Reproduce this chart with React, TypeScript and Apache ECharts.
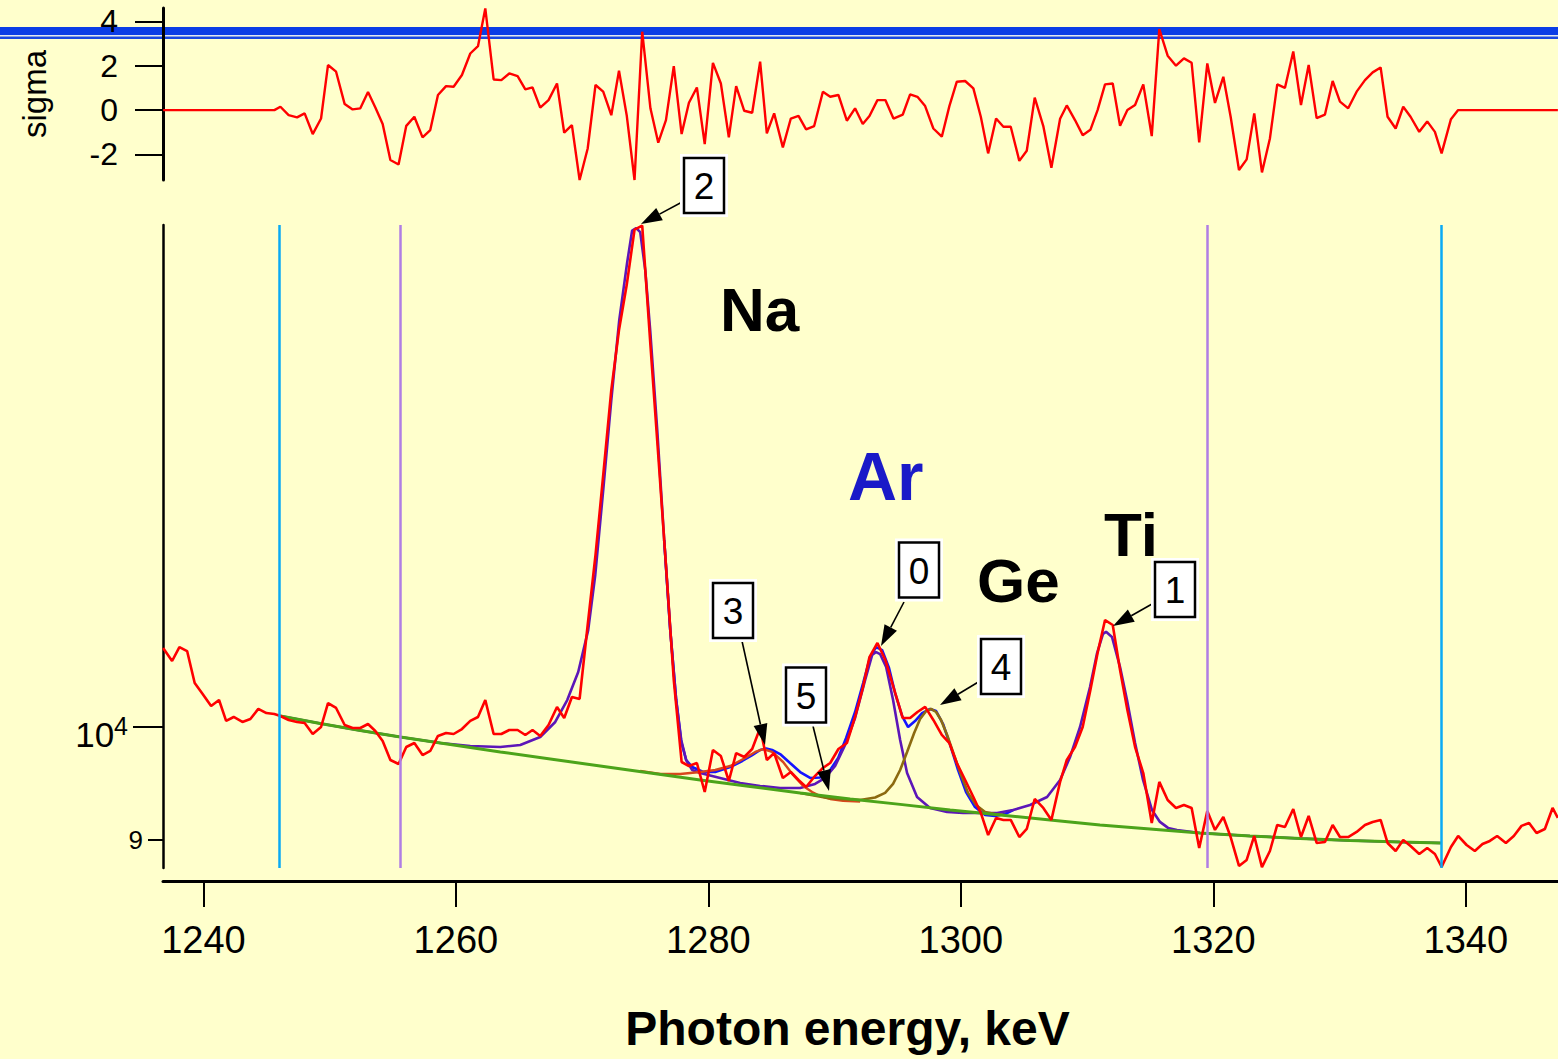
import React, { useEffect, useRef } from 'react';
import * as echarts from 'echarts';

const FONT = '"Liberation Sans", Arial, Helvetica, sans-serif';

// channel energies (keV)
const energy = [
  1236.81, 1237.52, 1238.10, 1238.71, 1239.31, 1239.94, 1240.61, 1241.24, 1241.80, 1242.40,
  1243.09, 1243.72, 1244.35, 1244.99, 1245.62, 1246.10, 1246.75, 1247.42, 1248.02, 1248.66,
  1249.32, 1249.87, 1250.51, 1251.19, 1251.82, 1252.43, 1253.04, 1253.62, 1254.20, 1254.81,
  1255.46, 1256.07, 1256.71, 1257.36, 1257.97, 1258.58, 1259.22, 1259.82, 1260.48, 1261.14,
  1261.75, 1262.33, 1262.99, 1263.60, 1264.23, 1264.89, 1265.50, 1266.07, 1266.68, 1267.34,
  1268.01, 1268.58, 1269.19, 1269.80, 1270.44, 1271.06, 1271.67, 1272.31, 1272.92, 1273.53,
  1274.15, 1274.76, 1275.41, 1276.03, 1276.64, 1277.26, 1277.88, 1278.46, 1279.09, 1279.71,
  1280.36, 1280.99, 1281.62, 1282.20, 1282.84, 1283.47, 1284.10, 1284.63, 1285.21, 1285.90,
  1286.53, 1287.14, 1287.74, 1288.38, 1289.07, 1289.65, 1290.30, 1290.97, 1291.62, 1292.23,
  1292.76, 1293.39, 1294.02, 1294.66, 1295.40, 1295.98, 1296.56, 1297.17, 1297.82, 1298.49,
  1299.09, 1299.68, 1300.34, 1300.99, 1301.58, 1302.16, 1302.79, 1303.37, 1303.95, 1304.63,
  1305.22, 1305.85, 1306.53, 1307.17, 1307.86, 1308.39, 1309.04, 1309.65, 1310.26, 1310.83,
  1311.42, 1312.03, 1312.61, 1313.19, 1313.80, 1314.45, 1315.12, 1315.72, 1316.38, 1317.04,
  1317.67, 1318.28, 1318.88, 1319.52, 1320.13, 1320.79, 1321.37, 1322.03, 1322.64, 1323.24,
  1323.85, 1324.48, 1325.06, 1325.67, 1326.33, 1326.94, 1327.55, 1328.18, 1328.84, 1329.45,
  1330.03, 1330.68, 1331.35, 1332.01, 1332.62, 1333.25, 1333.80, 1334.44, 1335.04, 1335.62,
  1336.31, 1336.94, 1337.55, 1338.08, 1338.82, 1339.39, 1340.06, 1340.71, 1341.32, 1341.90,
  1342.48, 1343.17, 1343.80, 1344.41, 1345.01, 1345.60, 1346.26, 1346.87, 1347.29,
];

// measured counts per channel
const counts = [
  10764, 10635, 10774, 10734, 10419, 10313, 10198, 10255, 10057, 10094,
  10047, 10075, 10170, 10131, 10122, 10103, 10066, 10047, 10037, 9935,
  10000, 10226, 10179, 10019, 9991, 9991, 10028, 9963, 9871, 9697,
  9661, 9815, 9852, 9742, 9779, 9917, 9944, 9935, 9981, 10057,
  10094, 10255, 9935, 9935, 9972, 9972, 9926, 9972, 9917, 10019,
  10188, 10084, 10284, 10265, 10998, 11740, 12648, 13690, 14479, 15100,
  15900, 15960, 14278, 12886, 11630, 10448, 9679, 9643, 9670, 9412,
  9788, 9733, 9509, 9760, 9724, 9797, 9991, 9697, 9760, 9536,
  9589, 9518, 9456, 9545, 9625, 9670, 9797, 9852, 10094, 10370,
  10674, 10815, 10645, 10380, 10084, 10084, 10141, 10189, 10066, 9926,
  9852, 9670, 9518, 9368, 9230, 9042, 9187, 9170, 9170, 9025,
  9093, 9351, 9273, 9170, 9501, 9697, 9815, 10000, 10351, 10714,
  11049, 10998, 10546, 10160, 9815, 9580, 9144, 9501, 9342, 9273,
  9299, 9273, 8933, 9247, 9085, 9195, 9025, 8785, 8834, 9034,
  8775, 8908, 9127, 9110, 9264, 9025, 9204, 8975, 8983, 9127,
  9025, 9025, 9068, 9127, 9153, 9170, 8975, 8908, 9000, 8950,
  8883, 8933, 8883, 8776, 8941, 9034, 8958, 8908, 8966, 8992,
  9034, 8975, 9034, 9119, 9144, 9059, 9093, 9273, 9187,
];

// normalized residuals (sigma) per channel, 0 outside the fit window
const residual = [
  0, 0, 0, 0, 0, 0, 0, 0, 0, 0,
  0, 0, 0, 0, 0, 0.15, -0.23, -0.33, -0.15, -1.08,
  -0.38, 2.03, 1.73, 0.27, 0.03, 0.08, 0.82, 0.12, -0.63, -2.25,
  -2.45, -0.71, -0.3, -1.23, -0.9, 0.68, 1.08, 1.05, 1.58, 2.55,
  2.88, 4.58, 1.38, 1.35, 1.65, 1.53, 0.93, 1.02, 0.11, 0.45,
  1.2, -1.02, -0.68, -3.15, -1.73, 1.13, 0.83, -0.23, 1.77, -0.23,
  -3.15, 3.53, 0.08, -1.47, -0.45, 1.98, -1.08, 0.33, 1.02, -1.53,
  2.13, 1.2, -1.23, 1.08, -0.03, -0.12, 2.18, -1.05, -0.15, -1.68,
  -0.38, -0.26, -0.87, -0.72, 0.83, 0.6, 0.68, -0.48, 0.08, -0.63,
  -0.27, 0.45, 0.45, -0.38, -0.2, 0.71, 0.6, 0.18, -0.83, -1.2,
  0.18, 1.28, 1.31, 0.98, -0.3, -1.95, -0.38, -0.75, -0.75, -2.29,
  -1.83, 0.56, -0.72, -2.6, -0.39, 0.21, -0.45, -1.13, -0.89, 0,
  1.16, 1.2, -0.71, 0, 0.23, 1.16, -1.17, 3.65, 2.45, 2.0,
  2.33, 2.13, -1.46, 2.1, 0.32, 1.5, -0.3, -2.7, -2.22, -0.15,
  -2.81, -1.28, 1.16, 1.0, 2.64, 0.23, 2.03, -0.36, -0.2, 1.31,
  0.38, 0.08, 0.83, 1.35, 1.7, 1.92, -0.3, -0.83, 0.15, -0.3,
  -0.98, -0.51, -0.98, -1.95, -0.41, 0, 0, 0, 0, 0,
  0, 0, 0, 0, 0, 0, 0, 0, 0,
];

// background (green)
const bgE = [1246.10, 1249.26, 1252.43, 1255.60, 1259.56, 1263.52, 1267.48, 1271.43, 1275.39, 1279.35,
  1283.31, 1287.27, 1291.23, 1295.19, 1299.15, 1303.11, 1307.07, 1311.02, 1314.98, 1318.94,
  1322.90, 1326.86, 1330.82, 1334.78, 1338.02];
const bgC = [10103, 10033, 9967, 9907, 9838, 9770, 9706, 9643, 9580, 9518,
  9461, 9404, 9351, 9304, 9255, 9212, 9170, 9127, 9093, 9059,
  9034, 9013, 8996, 8983, 8975];

// fit: background + Na + Ar + Ti (purple)
const mainFitE = [1246.10, 1249.26, 1252.43, 1255.60, 1258.77, 1261.14, 1263.52, 1265.10, 1266.68, 1267.87,
  1268.82, 1269.69, 1270.48, 1271.04, 1271.67, 1272.31, 1272.94, 1273.57, 1273.96, 1274.28,
  1274.60, 1275.00, 1275.39, 1275.95, 1276.50, 1276.98, 1277.45, 1277.85, 1278.24, 1278.72,
  1279.35, 1280.93, 1282.52, 1284.10, 1285.68, 1287.27, 1288.45, 1289.25, 1290.04, 1290.83,
  1291.62, 1292.42, 1292.97, 1293.29, 1293.60, 1294.08, 1294.63, 1295.19, 1295.74, 1296.53,
  1297.56, 1298.91, 1300.18, 1301.52, 1302.87, 1304.14, 1305.48, 1306.83, 1307.86, 1308.65,
  1309.44, 1310.23, 1310.79, 1311.26, 1311.50, 1311.97, 1312.61, 1313.16, 1313.80, 1314.43,
  1315.14, 1315.77, 1316.41, 1317.12, 1318.94, 1322.90, 1326.86, 1330.82, 1334.78, 1338.02];
const mainFitC = [10103, 10033, 9967, 9907, 9852, 9825, 9815, 9834, 9907, 10047,
  10255, 10526, 10946, 11523, 12472, 13564, 14615, 15425, 15888, 15923,
  15864, 15312, 14479, 13190, 11905, 10946, 10255, 9880, 9697, 9607,
  9580, 9536, 9491, 9465, 9447, 9447, 9483, 9536, 9643, 9834,
  10084, 10448, 10694, 10724, 10704, 10575, 10255, 9880, 9580, 9368,
  9273, 9238, 9230, 9230, 9230, 9255, 9299, 9368, 9518, 9724,
  10000, 10380, 10714, 10907, 10928, 10876, 10575, 10255, 9852, 9518,
  9255, 9153, 9102, 9085, 9059, 9034, 9013, 8996, 8983, 8975];

// total fit (blue), where it differs from the purple curve
const totalFitE = [1276.50, 1276.98, 1277.45, 1277.85, 1278.24, 1278.72, 1279.59, 1280.54, 1281.73, 1282.68,
  1283.47, 1284.10, 1284.58, 1285.05, 1285.68, 1286.47, 1287.27, 1288.06, 1288.85, 1289.65,
  1290.28, 1290.91, 1291.62, 1292.26, 1292.81, 1293.29, 1293.76, 1294.31, 1294.79, 1295.35,
  1295.82, 1296.37, 1296.93, 1297.56, 1298.04, 1298.59, 1299.15, 1299.78, 1300.41, 1301.12,
  1301.92, 1302.71, 1303.50, 1304.14];
const totalFitC = [11905, 10946, 10255, 9862, 9697, 9634, 9589, 9589, 9634, 9688,
  9742, 9788, 9802, 9788, 9751, 9670, 9589, 9536, 9540, 9607,
  9715, 9898, 10141, 10419, 10674, 10774, 10744, 10565, 10322, 10103,
  10000, 10056, 10131, 10170, 10150, 10028, 9834, 9607, 9412, 9281,
  9212, 9204, 9221, 9255];

// component: background + peaks 3 and 5 (orange-red)
const peak35E = [1274.60, 1276.18, 1277.77, 1279.35, 1280.54, 1281.73, 1282.91, 1283.71, 1284.34, 1285.05,
  1285.92, 1286.71, 1287.51, 1288.22, 1288.85, 1289.65, 1290.67, 1292.02];
const peak35C = [9598, 9571, 9571, 9589, 9607, 9643, 9715, 9770, 9797, 9770,
  9679, 9562, 9465, 9412, 9377, 9351, 9334, 9329];

// component: background + Ge peak 4 (brown)
const geE = [1287.27, 1289.65, 1292.02, 1293.21, 1294.00, 1294.63, 1295.19, 1295.74, 1296.30, 1296.77,
  1297.25, 1297.64, 1298.04, 1298.43, 1298.91, 1299.46, 1300.02, 1300.57, 1301.20, 1301.92,
  1302.71, 1303.50];
const geC = [9404, 9356, 9342, 9364, 9404, 9483, 9607, 9770, 9944, 10075,
  10150, 10170, 10141, 10066, 9926, 9742, 9562, 9404, 9299, 9238,
  9221, 9212];

const windowLines = [1246.02, 1338.07];
const regionLines = [1255.6, 1319.52];
const xTicks = [1240, 1260, 1280, 1300, 1320, 1340];
const sigmaTicks = [-2, 0, 2, 4];
const decadeTicks = [10000];
const minorTicks = [9000];

const X_MIN = 1236.8;
const X_MAX = 1347.3;
const Y_MIN = 8768;
const Y_MAX = 15970;

const pairs = (xs: number[], ys: number[]) => xs.map((x, i) => [x, ys[i]]);

function box(label: string, cx: number, cy: number) {
  const w = 40, h = 55;
  return [
    { type: 'rect', z: 100, shape: { x: cx - w / 2 - 4, y: cy - h / 2 - 4, width: w + 8, height: h + 8 }, style: { fill: '#ffffff' } },
    { type: 'rect', z: 101, shape: { x: cx - w / 2, y: cy - h / 2, width: w, height: h }, style: { fill: '#ffffff', stroke: '#000000', lineWidth: 2.5 } },
    { type: 'text', z: 102, x: cx, y: cy + 1, style: { text: label, fill: '#000', font: `37px ${FONT}`, align: 'center', verticalAlign: 'middle' } },
  ];
}

function arrow(x1: number, y1: number, tx: number, ty: number) {
  const dx = tx - x1, dy = ty - y1;
  const len = Math.sqrt(dx * dx + dy * dy);
  const ux = dx / len, uy = dy / len;
  const bx = tx - 21 * ux, by = ty - 21 * uy;
  const nx = -uy, ny = ux;
  return [
    { type: 'line', z: 100, shape: { x1, y1, x2: bx, y2: by }, style: { stroke: '#000', lineWidth: 1.6 } },
    { type: 'polygon', z: 100, shape: { points: [[tx, ty], [bx + 7 * nx, by + 7 * ny], [bx - 7 * nx, by - 7 * ny]] }, style: { fill: '#000' } },
  ];
}

export default function App() {
  const ref = useRef<HTMLDivElement>(null);
  useEffect(() => {
    if (!ref.current) return;
    const chart = echarts.init(ref.current, undefined, { renderer: 'svg' });
    const fitLine = (name: string, data: number[][], color: string, width: number, extra: any = {}) => ({
      name, type: 'line', xAxisIndex: 1, yAxisIndex: 1, data, showSymbol: false, symbol: 'none',
      lineStyle: { color, width }, silent: true, ...extra,
    });
    const option: any = {
      animation: false,
      backgroundColor: '#ffffcc',
      grid: [
        { left: 163, right: 0, top: 8, height: 172 },
        { left: 163, right: 0, top: 225, height: 643 },
      ],
      xAxis: [
        { gridIndex: 0, type: 'value', min: X_MIN, max: X_MAX, show: false },
        {
          gridIndex: 1, type: 'value', min: X_MIN, max: X_MAX, position: 'bottom', offset: 13,
          axisLine: { show: true, onZero: false, lineStyle: { color: '#000', width: 3 } },
          axisTick: { show: true, length: 26, lineStyle: { color: '#000', width: 2 }, customValues: xTicks },
          axisLabel: { customValues: xTicks, fontSize: 38, color: '#000', fontFamily: FONT, margin: 40, formatter: (v: number) => String(v) },
          splitLine: { show: false },
          name: 'Photon energy, keV', nameLocation: 'middle', nameGap: 123,
          nameTextStyle: { fontSize: 48, fontWeight: 'bold', fontFamily: FONT, color: '#000', padding: [0, 26, 0, 0] },
        },
      ],
      yAxis: [
        {
          gridIndex: 0, type: 'value', min: -3.15, max: 4.6, position: 'left',
          axisLine: { show: true, onZero: false, lineStyle: { color: '#000', width: 3 } },
          axisTick: { show: true, length: 28, lineStyle: { color: '#000', width: 2 }, customValues: sigmaTicks },
          axisLabel: { customValues: sigmaTicks, fontSize: 32, color: '#000', fontFamily: FONT, margin: 45, formatter: (v: number) => String(v) },
          splitLine: { show: false },
          name: 'sigma', nameLocation: 'middle', nameRotate: 90, nameGap: 112,
          nameTextStyle: { fontSize: 33, fontFamily: FONT, color: '#000' },
        },
        {
          gridIndex: 1, type: 'log', min: Y_MIN, max: Y_MAX, position: 'left', offset: 0,
          axisLine: { show: true, onZero: false, lineStyle: { color: '#000', width: 2.5 } },
          axisTick: { show: true, length: 30, lineStyle: { color: '#000', width: 2 }, customValues: decadeTicks },
          axisLabel: {
            customValues: decadeTicks, margin: 35, color: '#000',
            formatter: () => '{b|10}{s|4}',
            rich: {
              b: { fontSize: 35, fontFamily: FONT, color: '#000', lineHeight: 40, padding: [14, 0, 0, 0] },
              s: { fontSize: 25, fontFamily: FONT, color: '#000', lineHeight: 22, verticalAlign: 'top', padding: [6, 0, 0, 0] },
            },
          },
          splitLine: { show: false },
          minorTick: { show: false },
        },
        {
          gridIndex: 1, type: 'log', min: Y_MIN, max: Y_MAX, position: 'left', offset: 0,
          axisLine: { show: false },
          axisTick: { show: true, length: 15, lineStyle: { color: '#000', width: 2 }, customValues: minorTicks },
          axisLabel: { customValues: minorTicks, margin: 20, fontSize: 26, color: '#000', fontFamily: FONT, formatter: () => '9' },
          splitLine: { show: false },
        },
      ],
      series: [
        {
          name: 'residual', type: 'line', xAxisIndex: 0, yAxisIndex: 0,
          data: pairs(energy, residual), showSymbol: false, symbol: 'none',
          lineStyle: { color: '#ff0000', width: 2.4 }, silent: true,
        },
        fitLine('total fit', pairs(totalFitE, totalFitC), '#1414ff', 2.6, {
          markLine: {
            silent: true, symbol: ['none', 'none'], label: { show: false },
            data: [
              ...windowLines.map((v) => ({ xAxis: v, lineStyle: { color: '#0aaaf5', width: 2.5, type: 'solid' } })),
              ...regionLines.map((v) => ({ xAxis: v, lineStyle: { color: '#b07ee4', width: 2.5, type: 'solid' } })),
            ],
          },
        }),
        fitLine('Na+Ar+Ti fit', pairs(mainFitE, mainFitC), '#5c16b8', 2.6),
        fitLine('peaks 3,5', pairs(peak35E, peak35C), '#d8461c', 2.4),
        fitLine('Ge', pairs(geE, geC), '#8c6a10', 2.6),
        fitLine('background', pairs(bgE, bgC), '#4ca41a', 3),
        fitLine('data', pairs(energy, counts), '#ff0000', 2.6),
      ],
      graphic: {
        elements: [
          { type: 'rect', z: -1, shape: { x: 0, y: 27, width: 1558, height: 8 }, style: { fill: '#0a3de6' } },
          { type: 'rect', z: -1, shape: { x: 0, y: 35, width: 1558, height: 1.6 }, style: { fill: '#dfe6f3' } },
          { type: 'rect', z: -1, shape: { x: 0, y: 36.6, width: 1558, height: 2.4 }, style: { fill: '#1747e2' } },
          { type: 'text', z: 90, x: 720, y: 309, style: { text: 'Na', fill: '#000', font: `bold 62px ${FONT}`, align: 'left', verticalAlign: 'middle' } },
          { type: 'text', z: 90, x: 848, y: 476, style: { text: 'Ar', fill: '#1a1ac8', font: `bold 68px ${FONT}`, align: 'left', verticalAlign: 'middle' } },
          { type: 'text', z: 90, x: 977, y: 580, style: { text: 'Ge', fill: '#000', font: `bold 62px ${FONT}`, align: 'left', verticalAlign: 'middle' } },
          { type: 'text', z: 90, x: 1104, y: 534, style: { text: 'Ti', fill: '#000', font: `bold 62px ${FONT}`, align: 'left', verticalAlign: 'middle' } },
          ...arrow(684, 201, 641, 224),
          ...arrow(742, 641, 765, 745),
          ...arrow(813, 726, 829, 791),
          ...arrow(904, 602, 881, 646),
          ...arrow(980, 681, 940, 705),
          ...arrow(1152, 604, 1113, 626),
          ...box('2', 704, 185.5),
          ...box('3', 733, 610.5),
          ...box('5', 806, 695),
          ...box('0', 919, 570),
          ...box('4', 1001, 666.5),
          ...box('1', 1175, 589.5),
        ],
      },
    };
    chart.setOption(option);
    return () => chart.dispose();
  }, []);
  return <div ref={ref} style={{ position: 'fixed', left: 0, top: 0, width: 1558, height: 1059 }} />;
}
